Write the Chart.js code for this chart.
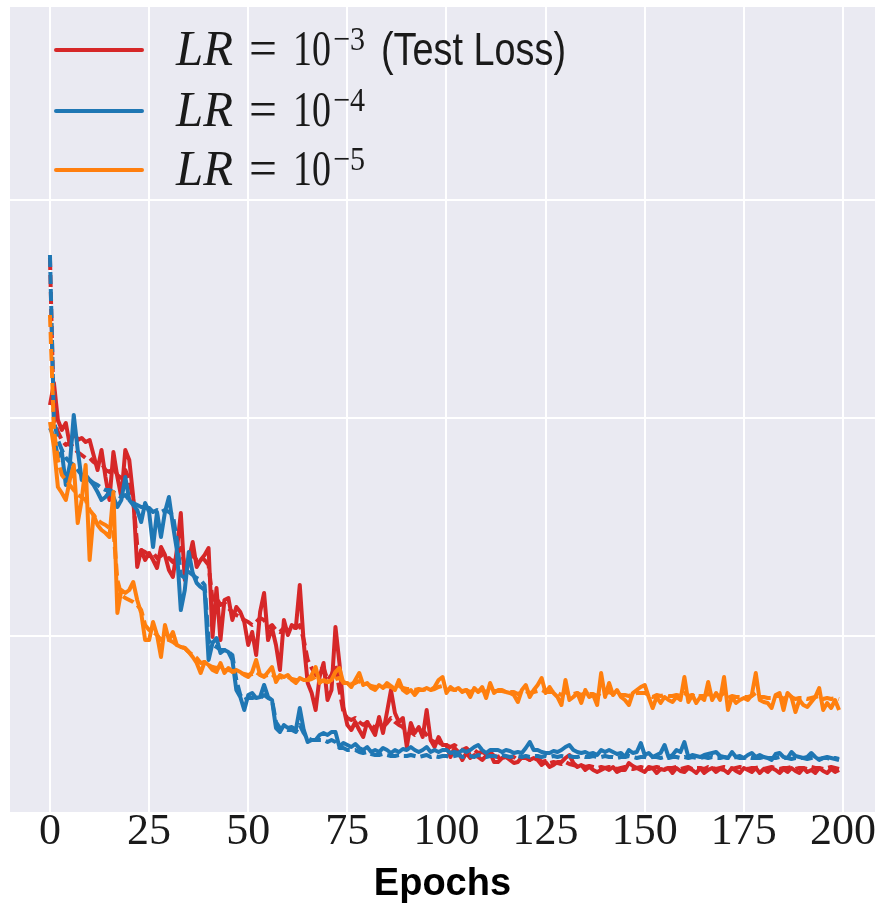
<!DOCTYPE html>
<html><head><meta charset="utf-8">
<script src="https://cdn.jsdelivr.net/npm/chart.js@4.4.1/dist/chart.umd.min.js"></script>
<style>html,body{margin:0;padding:0;background:#fff;}#wrap{width:876px;height:907px;}</style>
</head><body><div id="wrap"><canvas id="c" width="876" height="907"></canvas></div>
<script>
// ---- data (loss, arbitrary units) ----
const epochs = Array.from({length: 200}, (_, i) => i);
const xTickValues = [0, 25, 50, 75, 100, 125, 150, 175, 200];
const yGridValues = [2.18, 4.36, 6.54];

const lr3Test = [4.49,4.71,4.34,4.24,4.31,4.09,4.22,4.14,4.16,4.12,
4.14,3.99,3.84,4.04,3.77,3.54,4.02,3.77,3.57,4.04,
3.94,3.57,2.87,3.04,2.94,3.01,2.94,2.86,3.07,2.99,
2.84,2.77,3.04,3.41,2.74,2.94,3.12,2.87,2.94,2.99,
3.06,2.17,2.66,2.14,2.54,2.56,2.34,2.47,2.42,2.32,
2.09,2.22,1.99,2.42,2.61,2.14,2.26,2.09,1.84,2.34,
2.19,2.29,2.26,2.69,2.11,1.71,1.61,1.44,1.77,1.91,
1.54,1.64,2.27,1.91,1.47,1.29,1.24,1.32,1.24,1.17,
1.32,1.26,1.19,1.37,1.21,1.42,1.64,1.41,1.32,1.36,
1.07,1.31,1.21,1.27,1.17,1.44,1.14,1.07,1.17,1.09,
1.09,0.97,1.06,1.02,0.94,1.01,0.96,0.99,0.97,0.94,
0.98,1.01,0.92,0.92,0.96,0.97,0.94,0.91,0.92,0.97,
0.97,0.94,0.96,0.94,0.89,0.92,0.87,0.89,0.92,0.92,
0.96,0.99,0.91,0.87,0.89,0.84,0.87,0.84,0.82,0.84,
0.86,0.84,0.87,0.82,0.84,0.84,0.91,0.88,0.86,0.84,
0.82,0.87,0.86,0.81,0.85,0.84,0.86,0.81,0.86,0.83,
0.82,0.86,0.84,0.81,0.86,0.81,0.84,0.86,0.82,0.85,
0.84,0.81,0.86,0.83,0.81,0.86,0.84,0.82,0.86,0.81,
0.85,0.82,0.86,0.84,0.81,0.85,0.82,0.86,0.83,0.81,
0.86,0.82,0.84,0.81,0.86,0.83,0.81,0.85,0.82,0.84];

const lr3Train = [5.96,4.34,4.22,4.14,4.09,4.11,4.06,4.02,3.99,3.96,
3.96,3.92,3.89,3.91,3.84,3.82,3.86,3.79,3.76,3.84,
3.74,3.54,3.09,3.04,3.02,2.99,3.01,2.96,2.99,2.94,
2.96,2.92,2.99,3.06,2.89,2.94,2.99,2.94,2.96,2.94,
2.89,2.54,2.56,2.49,2.51,2.46,2.42,2.39,2.37,2.34,
2.32,2.29,2.32,2.36,2.34,2.26,2.29,2.24,2.22,2.26,
2.24,2.27,2.26,2.29,2.14,1.94,1.86,1.79,1.84,1.86,
1.74,1.79,1.89,1.64,1.42,1.36,1.34,1.36,1.32,1.29,
1.32,1.29,1.26,1.32,1.27,1.31,1.36,1.32,1.29,1.27,
1.19,1.22,1.19,1.21,1.24,1.19,1.14,1.12,1.12,1.09,
1.09,1.07,1.09,1.06,1.04,1.06,1.02,1.04,1.01,1.02,
1.00,1.02,0.98,0.97,0.99,0.97,0.96,0.97,0.94,0.96,
0.96,0.94,0.94,0.96,0.92,0.93,0.91,0.92,0.91,0.90,
0.92,0.90,0.89,0.88,0.89,0.87,0.88,0.87,0.86,0.87,
0.86,0.87,0.86,0.85,0.86,0.87,0.86,0.85,0.86,0.87,
0.86,0.85,0.86,0.87,0.86,0.85,0.86,0.86,0.87,0.85,
0.86,0.87,0.85,0.86,0.86,0.85,0.87,0.86,0.85,0.86,
0.87,0.86,0.85,0.86,0.87,0.86,0.85,0.86,0.86,0.87,
0.85,0.86,0.87,0.86,0.85,0.86,0.86,0.87,0.85,0.86,
0.86,0.85,0.87,0.86,0.86,0.85,0.86,0.87,0.86,0.85];

const lr4Test = [4.26,4.17,3.97,4.02,3.69,3.89,4.39,4.04,3.74,3.79,
3.74,3.69,3.62,3.54,3.57,3.62,3.57,3.47,3.54,3.77,
3.54,3.49,3.44,3.32,3.51,3.42,3.07,3.42,3.17,3.42,
3.57,3.29,3.04,2.44,2.64,3.02,2.81,2.71,2.67,2.64,
1.94,2.11,2.16,2.01,2.04,2.02,1.94,1.64,1.57,1.44,
1.59,1.61,1.56,1.57,1.69,1.57,1.54,1.26,1.22,1.29,
1.26,1.27,1.24,1.46,1.24,1.12,1.14,1.14,1.19,1.21,
1.19,1.22,1.22,1.07,1.11,1.09,1.07,1.10,1.06,1.04,
1.07,1.02,1.04,1.02,1.06,1.04,1.01,1.04,1.02,1.05,
1.04,1.07,1.04,1.02,1.04,1.07,1.02,1.04,1.02,1.04,
1.04,1.01,1.02,1.01,1.04,1.02,1.04,1.07,1.09,1.04,
1.01,1.04,1.04,1.04,1.02,1.04,1.03,1.01,1.02,1.01,
1.06,1.12,1.04,1.04,1.02,1.01,1.01,1.03,1.02,1.04,
1.07,1.09,1.04,1.02,1.01,1.02,1.00,1.01,0.99,1.04,
1.02,1.04,1.02,1.00,1.01,0.97,1.04,1.01,1.02,1.11,
0.99,1.01,0.97,0.99,1.01,1.09,0.97,0.99,1.04,1.02,
1.12,0.97,0.99,0.98,0.97,0.99,1.00,1.01,1.02,0.98,
0.97,0.96,1.02,0.97,0.98,0.96,0.99,1.01,0.97,0.99,
0.97,0.96,0.94,1.00,1.01,0.97,0.96,1.02,0.98,0.97,
0.96,0.97,1.01,0.97,0.94,0.96,0.97,0.96,0.95,0.94];

const lr4Train = [5.99,4.34,4.14,4.04,3.96,3.92,3.89,3.84,3.79,3.76,
3.74,3.71,3.69,3.66,3.64,3.64,3.62,3.59,3.57,3.59,
3.54,3.51,3.49,3.47,3.47,3.46,3.42,3.44,3.42,3.44,
3.42,3.39,3.14,2.79,2.76,2.82,2.79,2.76,2.74,2.69,
2.14,2.09,2.07,2.04,2.04,2.02,1.99,1.74,1.59,1.54,
1.56,1.56,1.57,1.56,1.59,1.56,1.54,1.32,1.26,1.26,
1.24,1.24,1.22,1.29,1.21,1.16,1.14,1.14,1.14,1.14,
1.12,1.14,1.12,1.06,1.06,1.04,1.04,1.04,1.02,1.01,
1.02,1.00,0.99,0.99,1.00,0.99,0.98,0.98,0.99,0.98,
0.98,0.99,0.98,0.97,0.98,0.99,0.97,0.98,0.97,0.98,
0.98,0.97,0.98,0.99,0.97,0.98,0.98,0.97,0.99,0.98,
0.97,0.98,0.98,0.97,0.99,0.98,0.97,0.98,0.98,0.97,
0.98,0.97,0.98,0.98,0.97,0.98,0.97,0.98,0.97,0.98,
0.97,0.98,0.97,0.97,0.98,0.97,0.97,0.98,0.97,0.97,
0.98,0.97,0.97,0.96,0.97,0.97,0.98,0.97,0.96,0.97,
0.97,0.96,0.97,0.97,0.96,0.97,0.96,0.97,0.97,0.96,
0.97,0.96,0.97,0.96,0.96,0.97,0.96,0.97,0.96,0.96,
0.97,0.96,0.96,0.97,0.96,0.96,0.97,0.96,0.96,0.96,
0.97,0.96,0.96,0.96,0.97,0.96,0.96,0.95,0.96,0.96,
0.96,0.95,0.96,0.96,0.95,0.96,0.96,0.95,0.96,0.95];

const lr5Test = [4.32,4.07,3.67,3.61,3.54,3.74,3.89,3.31,3.54,3.89,
2.94,3.39,3.29,3.24,3.21,3.17,3.62,2.41,2.64,2.61,
2.64,2.72,2.54,2.41,2.14,2.14,2.32,2.19,1.97,2.29,
2.14,2.22,2.09,2.07,2.06,2.02,1.97,1.91,1.81,1.92,
1.89,1.84,1.82,1.91,1.81,1.86,1.82,1.84,1.82,1.79,
1.77,1.82,1.94,1.79,1.77,1.82,1.87,1.72,1.79,1.77,
1.79,1.74,1.71,1.76,1.74,1.74,1.79,1.87,1.71,1.74,
1.72,1.74,1.82,1.86,1.71,1.71,1.67,1.74,1.81,1.69,
1.71,1.66,1.64,1.69,1.66,1.71,1.68,1.64,1.74,1.64,
1.61,1.64,1.59,1.64,1.64,1.66,1.64,1.67,1.74,1.77,
1.61,1.67,1.64,1.66,1.62,1.64,1.57,1.66,1.62,1.67,
1.56,1.71,1.61,1.64,1.64,1.62,1.61,1.59,1.52,1.64,
1.69,1.57,1.64,1.69,1.76,1.61,1.67,1.61,1.57,1.49,
1.74,1.54,1.57,1.61,1.51,1.64,1.57,1.59,1.49,1.81,
1.57,1.71,1.59,1.64,1.57,1.54,1.49,1.61,1.64,1.67,
1.69,1.57,1.46,1.57,1.51,1.57,1.54,1.52,1.57,1.54,
1.77,1.52,1.59,1.51,1.57,1.54,1.72,1.54,1.61,1.54,
1.77,1.44,1.57,1.51,1.54,1.56,1.54,1.59,1.81,1.54,
1.52,1.51,1.46,1.59,1.61,1.44,1.61,1.57,1.42,1.54,
1.49,1.47,1.52,1.57,1.66,1.44,1.51,1.46,1.54,1.44];

const lr5Train = [5.39,4.24,3.94,3.79,3.74,3.69,3.64,3.59,3.57,3.54,
3.44,3.39,3.34,3.31,3.29,3.26,3.24,2.74,2.59,2.56,
2.54,2.52,2.49,2.44,2.29,2.24,2.22,2.19,2.14,2.16,
2.14,2.12,2.09,2.07,2.06,2.02,1.99,1.96,1.91,1.92,
1.89,1.87,1.86,1.87,1.84,1.84,1.83,1.82,1.81,1.80,
1.79,1.80,1.82,1.79,1.78,1.79,1.80,1.76,1.77,1.76,
1.77,1.75,1.74,1.74,1.74,1.74,1.75,1.77,1.73,1.73,
1.72,1.73,1.75,1.76,1.72,1.71,1.70,1.71,1.73,1.70,
1.70,1.68,1.67,1.68,1.67,1.68,1.67,1.66,1.68,1.66,
1.65,1.65,1.64,1.65,1.64,1.65,1.64,1.65,1.67,1.68,
1.64,1.65,1.64,1.64,1.63,1.64,1.62,1.64,1.63,1.64,
1.62,1.64,1.63,1.63,1.63,1.62,1.62,1.62,1.60,1.62,
1.63,1.61,1.62,1.63,1.64,1.62,1.62,1.62,1.61,1.59,
1.62,1.60,1.60,1.61,1.59,1.61,1.60,1.60,1.58,1.62,
1.60,1.62,1.60,1.61,1.59,1.59,1.58,1.60,1.61,1.61,
1.61,1.59,1.57,1.59,1.58,1.59,1.58,1.58,1.59,1.58,
1.61,1.58,1.59,1.57,1.58,1.58,1.60,1.58,1.59,1.58,
1.61,1.56,1.58,1.57,1.57,1.57,1.57,1.58,1.61,1.57,
1.57,1.56,1.56,1.58,1.58,1.55,1.58,1.57,1.55,1.56,
1.56,1.55,1.56,1.57,1.58,1.55,1.56,1.55,1.56,1.55];

const legendExponents = ['\u22123', '\u22124', '\u22125'];
const legendSuffixes = ['(Test Loss)', '', ''];
const seriesColors = ['#d62728', '#1f77b4', '#ff7f0e'];

// ---- build ----
const pts = arr => epochs.map((e, i) => ({x: e, y: arr[i]}));
const mk = (arr, color, dashed, order) => ({
  data: pts(arr), borderColor: color, backgroundColor: color,
  borderWidth: 4, pointRadius: 0, tension: 0, fill: false,
  borderJoinStyle: 'round', borderDash: dashed ? [12, 5] : [], order: order
});

const bgPlugin = {
  id: 'bg',
  beforeDraw(chart) {
    const {ctx, chartArea: a} = chart;
    ctx.save();
    ctx.fillStyle = '#EAEAF2';
    ctx.fillRect(a.left, a.top, a.right - a.left, a.bottom - a.top);
    ctx.restore();
  }
};

function piece(ctx, text, font, x, w, y) {
  ctx.font = font;
  const m = ctx.measureText(text).width;
  ctx.save();
  ctx.translate(x, y);
  ctx.scale(w / m, 1);
  ctx.fillText(text, 0, 0);
  ctx.restore();
}

const legendPlugin = {
  id: 'mathLegend',
  afterDatasetsDraw(chart) {
    const ctx = chart.ctx;
    const baselines = [65, 126, 185];
    ctx.save();
    ctx.textBaseline = 'alphabetic';
    ctx.textAlign = 'left';
    for (let i = 0; i < 3; i++) {
      const b = baselines[i];
      ctx.strokeStyle = seriesColors[i];
      ctx.lineWidth = 4;
      ctx.lineCap = 'round';
      ctx.beginPath();
      ctx.moveTo(56, b - 15);
      ctx.lineTo(142, b - 15);
      ctx.stroke();
      ctx.fillStyle = '#1a1a1a';
      piece(ctx, 'LR', 'italic 50px "Liberation Serif"', 176, 57, b);
      piece(ctx, '=', '50px "Liberation Serif"', 249, 28, b);
      piece(ctx, '10', '50px "Liberation Serif"', 293, 38, b);
      piece(ctx, legendExponents[i], '34px "Liberation Serif"', 333, 32, b - 15);
      if (legendSuffixes[i]) piece(ctx, legendSuffixes[i], '46px "Liberation Sans"', 381, 185, b);
    }
    ctx.restore();
  }
};

new Chart(document.getElementById('c'), {
  type: 'line',
  data: {
    datasets: [
      mk(lr3Test, seriesColors[0], false, 6),
      mk(lr3Train, seriesColors[0], true, 5),
      mk(lr4Test, seriesColors[1], false, 4),
      mk(lr4Train, seriesColors[1], true, 3),
      mk(lr5Test, seriesColors[2], false, 2),
      mk(lr5Train, seriesColors[2], true, 1)
    ]
  },
  options: {
    responsive: false, animation: false, devicePixelRatio: 1,
    layout: {padding: {left: 10, top: 7, right: 0, bottom: 0}},
    plugins: {legend: {display: false}, tooltip: {enabled: false}},
    scales: {
      x: {
        type: 'linear', min: -10.08, max: 208.06,
        afterBuildTicks: s => { s.ticks = xTickValues.map(v => ({value: v})); },
        afterFit: s => { s.height = 95; },
        grid: {color: '#ffffff', lineWidth: 2, drawTicks: false},
        border: {display: false},
        ticks: {
          autoSkip: false, maxRotation: 0, padding: 0, color: '#1a1a1a',
          font: {family: '"Liberation Serif"', size: 44, lineHeight: 0.92},
          callback: v => String(v)
        },
        title: {
          display: true, text: 'Epochs', color: '#000',
          font: {family: '"Liberation Sans"', weight: 'bold', size: 38, lineHeight: 1},
          padding: {top: 0, bottom: 3}
        }
      },
      y: {
        type: 'linear', min: 0.42, max: 8.47,
        afterBuildTicks: s => { s.ticks = yGridValues.map(v => ({value: v})); },
        afterFit: s => { s.width = 0; },
        grid: {color: '#ffffff', lineWidth: 2, drawTicks: false},
        border: {display: false},
        ticks: {display: false}
      }
    }
  },
  plugins: [bgPlugin, legendPlugin]
});
</script></body></html>
